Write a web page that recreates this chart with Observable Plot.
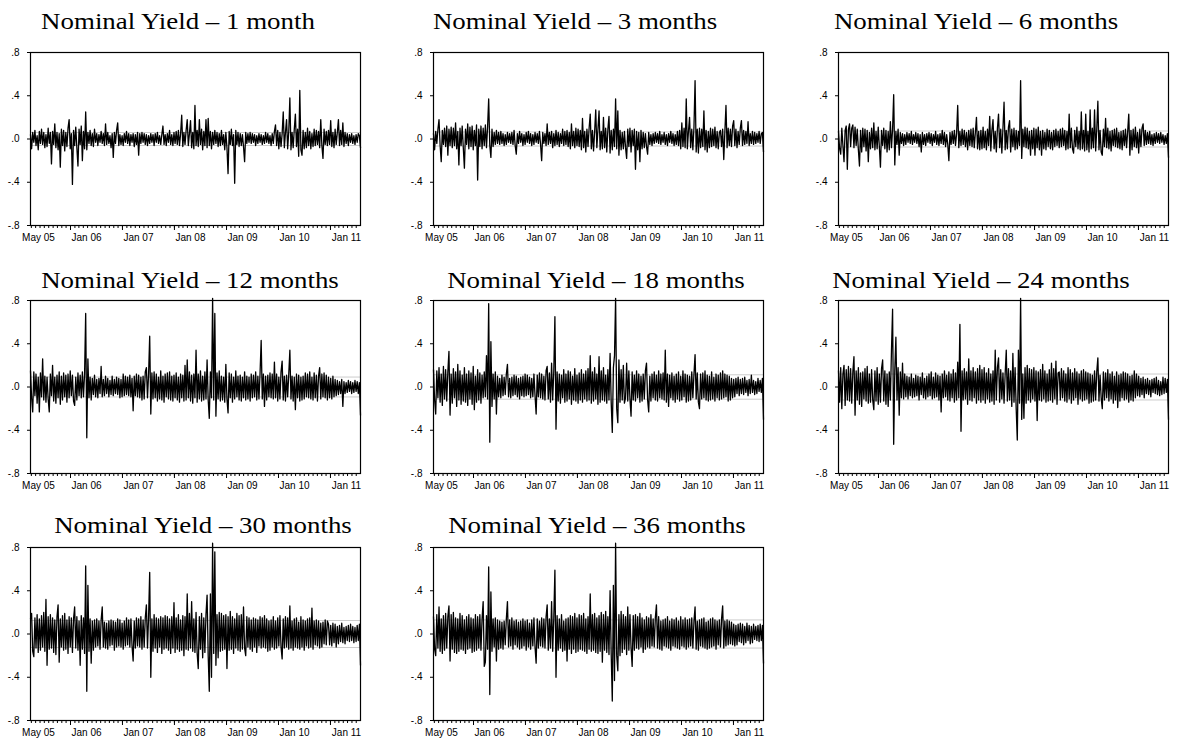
<!DOCTYPE html>
<html><head><meta charset="utf-8">
<script src="https://cdn.jsdelivr.net/npm/d3@7"></script>
<script src="https://cdn.jsdelivr.net/npm/@observablehq/plot@0.6"></script>
<style>
body{margin:0;background:#fff;width:1181px;height:744px;position:relative;overflow:hidden}
.title{position:absolute;font-family:"Liberation Serif","Times New Roman",serif;font-size:24px;line-height:24px;white-space:nowrap;transform:translateX(-50%) scaleX(1.12);color:#000}
.panel{position:absolute}
</style></head><body>
<script>
// Daily changes in nominal yields, in basis points
const titles = ["Nominal Yield \u2013 1 month","Nominal Yield \u2013 3 months","Nominal Yield \u2013 6 months",
  "Nominal Yield \u2013 12 months","Nominal Yield \u2013 18 months","Nominal Yield \u2013 24 months",
  "Nominal Yield \u2013 30 months","Nominal Yield \u2013 36 months"];
const xLabels = ["May 05","Jan 06","Jan 07","Jan 08","Jan 09","Jan 10","Jan 11"];
const yTicks = [-0.8,-0.4,0,0.4,0.8];
const yLabels = ["-.8","-.4",".0",".4",".8"];
// +/- one standard deviation band, basis points
const bandBp = [6,6.5,7.4,9.2,11.3,12,12.5,13];

const m1 = [4,-9,6,-3,8,-6,3,-10,7,-4, 9,-5,6,-8,4,-7,10,-4,6,-23, 7,-5,14,-8,6,-10,5,-26,9,-6,
 8,-11,6,-7,10,18,-9,5,-42,8, -6,11,-8,-25,9,-5,12,-20,7,-9, 25,-10,6,-4,8,-6,5,-7,9,-3,
 5,-6,4,-3,7,-4,5,-6,14,-5, 6,-4,3,-8,5,-17,6,-4,8,15, -6,4,-5,3,-6,5,-3,7,-4,5,
 -6,4,-3,5,-7,4,-5,6,-15,5, -4,6,-3,5,-5,4,-6,3,-4,5, -3,4,-6,5,-3,6,-4,3,-5,4,
 12,-5,4,-6,5,-3,8,-5,4,-6, 6,-4,7,-5,8,-6,5,22,-7,6, -5,8,18,-6,5,17,-8,6,-9,31,
 -6,8,-7,18,-5,9,-10,7,-6,18, -8,19,-6,7,-9,6,-5,8,-4,6, -7,5,-6,8,-5,4,-10,6,-8,-32,
 7,-5,9,-6,4,-41,8,-5,6,-7, 5,-6,4,-7,-21,6,-4,5,-3,6, -4,5,-3,4,-6,3,-4,5,-3,4,
 -5,3,-4,6,-3,5,-4,3,-6,5, -4,7,13,-6,8,-9,6,-7,5,25, -8,6,18,-9,7,38,-10,6,-8,9,
 23,-7,9,-16,45,-10,-15,8,-9,6, -8,10,-6,7,-9,5,-7,9,-6,8, -5,7,-8,18,-6,-18,9,-5,7,-6,
 8,-5,17,-7,6,-8,9,-5,6,18, -6,8,-5,15,-7,6,-4,5,-6,4, -3,5,-4,3,-5,4,-3,5,3,-8];
const m3 = [5,-10,7,-4,9,18,-6,-21,8,-5, 10,-7,12,-15,9,-6,11,-8,10,-6, 15,-9,7,-24,10,-6,12,-8,-27,9,
 -5,14,-9,11,-7,12,-10,8,-6,13, -38,9,-7,12,-9,10,-6,13,-8,11, 37,-6,-17,9,-7,6,-5,8,-4,6,
 -5,7,-4,5,-6,4,-5,6,-3,5, -4,6,-5,8,-6,-14,5,-4,7,-3, 5,-6,4,-5,6,-3,7,-4,5,-6,
 4,-5,6,-3,5,-4,7,-5,-20,6, -4,5,-6,14,-5,6,-4,7,-8,5, -6,8,-5,6,-7,5,-4,9,-6,7,
 -5,8,-7,6,-9,14,-6,7,-8,10, -6,9,-7,8,-10,19,-8,7,-12,9, -7,10,23,-9,8,-11,7,27,-8,9,
 26,-10,7,-9,20,-8,10,-12,9,21, -13,8,-10,9,-7,37,-9,26,-15,8, -10,6,-9,7,-8,-18,9,-7,10,-12,
 8,-6,9,-28,7,-10,6,-21,8,-9, 6,-8,5,-7,-14,6,-5,4,-6,5, -4,6,-3,5,-4,7,-5,4,-3,6,
 -5,4,-6,5,-3,7,-4,5,-6,4, -5,7,-6,8,-9,15,-7,10,-8,37, -9,7,20,-8,9,-10,11,54,-12,9,
 -13,10,-8,9,-7,26,-10,8,-12,7, -8,10,-7,9,-6,11,-8,7,-9,6, 8,-7,9,-19,7,31,-8,10,-6,9,
 -7,12,17,-6,9,-8,7,-5,10,17, -6,8,-5,7,-4,16,-6,5,-4,7, -5,6,-4,5,-3,7,-4,5,6,-12];
const m6 = [7,-9,-14,10,-6,-21,8,12,-28,9, 14,-7,10,13,-8,11,-6,9,-10,-25, 8,-12,10,-7,9,-11,8,-21,6,-9,
 10,-8,15,-10,7,-9,11,-7,-26,8, -6,10,-9,8,-12,7,-10,16,-8,9, 41,-24,7,-5,9,-15,6,-4,5,-6,
 4,-5,6,-3,5,-4,7,-5,4,-3, 6,-4,5,-7,4,-12,6,-5,4,-6, 5,-3,6,-4,5,-6,4,-3,7,-5,
 4,-6,5,-4,8,-5,6,-7,4,-5, -20,6,-5,7,-4,8,-6,5,31,-8, 7,-6,9,-5,8,-7,6,-10,8,-6,
 9,-7,10,-8,6,20,-9,7,-10,8, -9,11,-8,7,-10,9,-6,21,-11,8, 18,-9,7,-12,10,23,-8,9,-13,10,
 34,-10,8,-9,11,17,-12,9,-7,10, -10,8,-9,7,-6,54,-18,9,-7,11, -8,10,-9,7,-15,8,-9,10,-15,9,
 -8,11,-10,7,-15,8,-9,6,-10,9, -7,8,-9,6,-10,8,-7,9,-6,7, -8,9,-7,10,-6,8,-10,7,-9,23,
 -8,10,-9,-13,8,-7,11,-9,7,-10, 25,-9,8,-11,23,-10,7,-12,27,-9, 10,-8,27,-11,9,35,-10,8,-12,-15,
 9,-7,19,-8,10,-9,7,-11,8,-6, 9,-7,10,-8,6,-9,7,-10,8,-6, 9,-8,7,23,-15,8,-10,9,-7,11,
 -8,6,-13,9,-7,10,14,-6,8,-5, 6,-4,7,-5,4,-6,5,-4,6,-3, 5,-4,6,-3,4,-5,3,-4,5,-17];
const m12 = [15,-10,-23,14,-8,12,-15,9,-23,13, -9,26,-12,10,-14,9,-11,-23,12,-8, 20,-13,9,-15,11,-10,14,-16,10,-12,
 13,-9,11,-14,12,-10,15,-8,11,-13, -17,9,-12,13,-8,11,-10,14,-9,12, 68,-47,26,-10,9,-12,8,-7,11,-9,
 7,-10,8,-6,19,-9,7,-8,10,-6, 8,-9,6,-7,10,-8,7,-6,9,-7, 8,-10,7,-9,12,-8,10,-7,9,-8,
 11,-9,8,-22,10,-8,12,-9,11,-10, 9,-12,10,-11,14,18,-10,12,47,-25, 13,-11,14,-10,12,-13,9,-11,15,-12,
 10,-14,12,-9,13,-11,14,-12,10,-13, 11,-10,13,-12,9,-14,12,-10,11,-13, 20,-12,25,-10,14,-13,11,-15,12,-10,
 34,-14,12,-11,15,-13,10,-12,14,-11, 25,-12,-29,14,-10,82,-12,68,-27,13, -11,15,-13,10,-12,9,-14,21,-11,-24,
 13,-10,12,-14,9,-11,15,-9,10,-12, 11,-13,9,-10,14,-12,10,-11,9,-13, 12,-10,11,-9,14,-12,10,-11,13,43,
 -11,12,-18,10,-12,11,-9,13,-10,12, -11,23,-10,12,-13,9,-11,14,24,-12, 10,-13,11,-9,12,34,-11,10,-13,9,
 -21,12,-10,11,-13,9,-12,10,-11,13, -9,12,-10,14,-11,9,-12,13,-10,11, -13,10,18,-11,12,-9,13,-10,11,-12,
 9,-10,8,-11,10,-9,7,-8,6,-7, 5,-6,7,-18,5,-6,4,-5,6,-4, 5,-6,4,-5,6,-4,5,-6,4,-26];
const m18 = [16,-12,-25,15,-10,18,-14,12,-17,19, -11,16,-13,14,33,-26,12,-15,17,-10, 14,-18,21,-12,15,-16,11,-13,18,-14,
 12,-17,15,-11,13,-16,19,-21,10,-14, 16,-12,13,-15,11,-10,14,-9,29,-11, 77,-51,42,-18,12,-11,14,-25,10,-9,
 8,-10,11,-8,9,-7,12,21,-9,8, -10,9,-8,11,-7,10,-9,8,-11,9, -8,10,-9,12,-8,11,-7,9,-10,8,
 -9,12,-8,-25,11,-9,13,-10,12,-11, 10,-12,15,19,-11,13,-14,22,-12,15, 65,-39,14,-13,12,-15,11,-10,16,-14,
 12,-13,15,-11,14,-16,10,-12,17,-13, 11,-15,13,-12,16,-14,12,-11,15,-13, 17,-12,29,-15,14,-13,18,-11,12,-16,
 28,-14,15,-12,18,-13,11,-15,16,-12, 31,-14,-42,18,29,82,-20,-33,25,-14, 16,-12,20,-15,-10,22,-13,15,-11,-27,
 14,-12,11,-13,15,-10,12,-14,10,-13, 12,-11,15,22,-12,-23,10,-13,12,-10, 14,-12,11,-13,15,-10,12,-11,13,-12,
 34,-14,12,-18,11,-10,13,-12,10,-14, 12,-11,14,-13,10,-12,15,-9,12,-14, 11,-13,10,-12,14,-10,12,30,-11,13,
 -14,-20,12,-11,13,-10,15,-12,11,-13, 10,-12,14,-11,9,-13,12,-10,11,-12, 13,-11,15,-10,12,-9,11,-13,10,-12,
 8,-10,7,-9,8,-6,9,-8,7,-6, 8,-7,9,-5,6,-8,7,-6,11,-5, 6,-7,5,-6,8,-4,6,-5,8,-30];
const m24 = [15,-14,18,-20,12,20,-17,16,-12,19, -13,17,-15,14,28,-26,15,-12,18,-16, 13,-18,14,-11,17,-13,19,-15,12,-14,
 16,-12,-21,15,-13,18,-16,12,-14,17, 25,-13,15,-16,12,-18,14,-12,34,72, -53,15,46,-12,18,-26,14,-10,22,-11,
 12,-9,10,-11,9,-8,12,-10,8,-9, 11,-8,10,-12,9,-7,13,-10,8,-11, 10,-9,12,-8,14,-11,9,-10,13,-9,
 11,-12,10,-23,12,-10,15,-9,11,-12, 14,-13,12,-10,16,-14,13,-12,23,-10, 58,-41,15,-12,17,-11,14,-16,26,-12,
 15,-13,18,-10,14,-15,17,-12,20,-14, 16,-12,18,-15,13,-11,17,-14,12,-13, 15,-16,34,-12,18,27,-14,16,-11,13,
 -15,12,34,-13,17,-12,15,-18,31,-14, 18,-20,-49,34,-15,82,-30,12,-29,18, -15,20,-12,17,-14,16,-11,18,-13,15,
 -31,14,-12,16,-13,21,-11,15,-14,12, -13,16,-12,22,-14,17,-11,24,-16,13, 14,-12,17,-10,15,-13,12,-14,18,-11,
 16,-15,13,-12,17,-10,14,-16,12,-11, 15,-13,16,-12,14,-11,13,-15,12,-14, 11,-13,15,-12,14,27,-13,11,-10,-20,
 14,-12,13,-10,16,-13,12,-11,14,-15, 10,-12,14,-19,11,-13,12,-10,14,-12, 13,-11,12,-14,10,-12,11,-13,15,-10,
 12,-8,10,-9,8,-7,9,-10,7,-6, 8,-7,6,-9,7,-5,8,-6,9,-7, 6,-8,5,-7,9,-6,8,-5,7,-30];
const m30 = [14,19,-16,-21,15,-13,18,-17,14,-15, 17,-12,20,-16,32,-29,16,-14,18,-13, 15,-17,13,-19,16,27,-26,14,-12,17,
 -15,19,-14,13,-18,16,-12,15,-17,14, 25,-13,16,-15,12,-29,17,-14,15,-18, 63,-53,45,-16,14,-27,12,-15,13,-12,
 14,-11,12,-14,13,25,-12,11,-13,10, -14,12,-11,13,-10,12,-15,11,-12,14, -11,13,-12,10,-14,12,-11,15,-10,13,
 -12,14,-11,-25,12,-13,15,-11,14,-12, 16,-14,13,-12,15,27,-13,16,57,-40, 14,-16,18,-13,15,-17,14,-12,16,-18,
 15,-14,17,-13,16,-15,14,-18,16,-13, 29,-17,15,-14,18,-16,13,-15,17,-20, 16,-14,37,-15,19,-13,30,-16,14,-17,
 20,-18,-32,16,-14,19,-22,15,-17,18, 36,-20,-53,37,-40,84,-18,76,-29,18, -22,20,-16,19,-15,17,-14,18,-32,16,
 -15,21,-14,16,-18,14,-13,19,-15,17, -16,18,-14,25,-13,-20,16,-12,15,-14, 13,-16,15,-12,14,-17,13,-11,16,-13,
 15,-12,17,-13,14,-16,12,-15,13,-12, 16,-14,12,-13,15,-11,17,-12,-23,14, -13,16,-12,15,-14,26,-13,12,-15,14,
 -12,15,-13,11,-14,16,-12,13,-15,12, -11,14,-13,15,-12,24,-14,12,-10,13, -11,12,-13,10,-12,11,-9,13,-10,12,
 9,-10,8,-11,10,-8,9,-12,7,-9, 8,-7,10,-8,6,-9,7,-6,8,-7, 9,-6,7,-8,6,-7,8,-6,9,-29];
const m36 = [16,-14,-20,18,-13,25,-16,14,-18,17, -15,19,-13,16,26,-25,18,-14,20,-17, 15,-18,14,-16,19,-14,17,-15,13,-18,
 16,-14,18,-13,15,-17,14,-16,18,-15, 16,-13,18,-15,14,30,-30,-26,17,-14, 62,-56,39,-16,14,-12,15,-25,13,-14,
 12,-13,11,-14,12,-10,14,30,-12,13, -11,15,-14,12,-10,13,-12,11,-14,12, -13,14,-11,12,-15,13,-12,10,-14,13,
 -11,15,-12,-27,14,-13,12,-11,15,-12, 14,-13,16,27,-15,14,-13,30,-16,15, 59,-40,17,-15,14,-13,18,-16,12,-15,
 14,-25,15,-14,17,-18,16,-14,19,-17, 15,-16,18,-14,17,-15,19,-16,14,-18, 16,-14,37,-16,18,-15,19,-17,15,-18,
 17,-16,20,-26,18,-15,21,-17,16,-19, 40,-18,-62,45,-43,84,-20,-34,18,-20, 21,-17,18,-14,16,-19,25,-15,18,-13,
 -30,17,-15,18,-13,16,-14,19,-12,15, -17,13,-14,16,-12,15,-13,18,-11,14, -12,15,27,-13,16,-14,12,-15,13,-11,
 14,-12,16,-13,12,-15,14,-11,13,-12, 15,-13,12,-14,16,-11,13,-12,15,-14, 13,-12,14,-11,15,-13,12,25,-14,12,
 -15,13,-11,14,-12,15,-13,11,-14,12, -13,14,-12,15,-11,13,-14,12,-10,13, -12,14,26,-13,12,-11,13,-10,12,-9,
 11,-10,9,-11,8,-10,9,-7,10,-8, 9,-10,7,-8,10,-6,8,-9,7,-8, 9,-5,7,-6,8,-7,9,-6,8,-27];
const seriesBp = [m1,m3,m6,m12,m18,m24,m30,m36];

const startDate = new Date(Date.UTC(2005,2,26));
const endDate = new Date(Date.UTC(2011,6,31));
const yearTicks = [2006,2007,2008,2009,2010,2011].map(y => new Date(Date.UTC(y,0,1)));
const monthTicks = d3.utcMonth.range(d3.utcMonth.ceil(startDate), endDate);

// layout (frame positions)
const colLeft = [30,433,838];
const rowTop = [52,300,547];
const titleCenter = [178,575,976,190,596,981,203,597];
const titleTop = [9,268,513];
const ML = 30, MR = 12, MT = 6, MB = 22, FW = 330, FH = 173;

const fontStyle = {fontFamily:"'Liberation Sans', Arial, sans-serif", fontSize:"10px", color:"#000", background:"transparent", overflow:"visible"};

seriesBp.forEach((s, k) => {
  const r = Math.floor(k/3), c = k % 3;
  const n = s.length;
  const data = s.map((bp, i) => ({
    date: new Date(+startDate + (endDate - startDate) * i / (n - 1)),
    v: bp / 100
  }));
  const b = bandBp[k] / 100;
  const chart = Plot.plot({
    width: FW + ML + MR, height: FH + MT + MB,
    marginLeft: ML, marginRight: MR, marginTop: MT, marginBottom: MB,
    style: fontStyle,
    x: {type:"utc", domain:[startDate, endDate], axis:null},
    y: {domain:[-0.8, 0.8], axis:null},
    marks: [
      Plot.ruleY([-b, b], {stroke:"#cccccc", strokeWidth:1}),
      Plot.lineY(data, {x:"date", y:"v", stroke:"#000", strokeWidth:1.3}),
      Plot.frame({stroke:"#000", strokeWidth:1.2}),
      Plot.axisY({ticks:yTicks, tickSize:3, tickPadding:8, label:null, fontSize:10,
        tickFormat:d=>yLabels[yTicks.indexOf(d)]}),
      Plot.axisX({ticks:monthTicks, tickSize:3, label:null, tickFormat:()=>""}),
      Plot.axisX({ticks:yearTicks, tickSize:5, label:null, tickFormat:()=>""}),
      Plot.axisX({ticks:yearTicks, tickSize:0, tickPadding:8, dx:16, fontSize:10, label:null,
        tickFormat:d=>xLabels[yearTicks.findIndex(t=>+t===+d)+1]}),
      Plot.axisX({ticks:[startDate], tickSize:0, tickPadding:8, dx:8, fontSize:10, label:null, tickFormat:()=>xLabels[0]})
    ]
  });
  const div = document.createElement("div");
  div.className = "panel";
  div.style.left = (colLeft[c] - ML) + "px";
  div.style.top = (rowTop[r] - MT) + "px";
  div.appendChild(chart);
  document.body.appendChild(div);
  const t = document.createElement("div");
  t.className = "title";
  t.textContent = titles[k];
  t.style.left = titleCenter[k] + "px";
  t.style.top = titleTop[r] + "px";
  document.body.appendChild(t);
});
</script>
</body></html>
